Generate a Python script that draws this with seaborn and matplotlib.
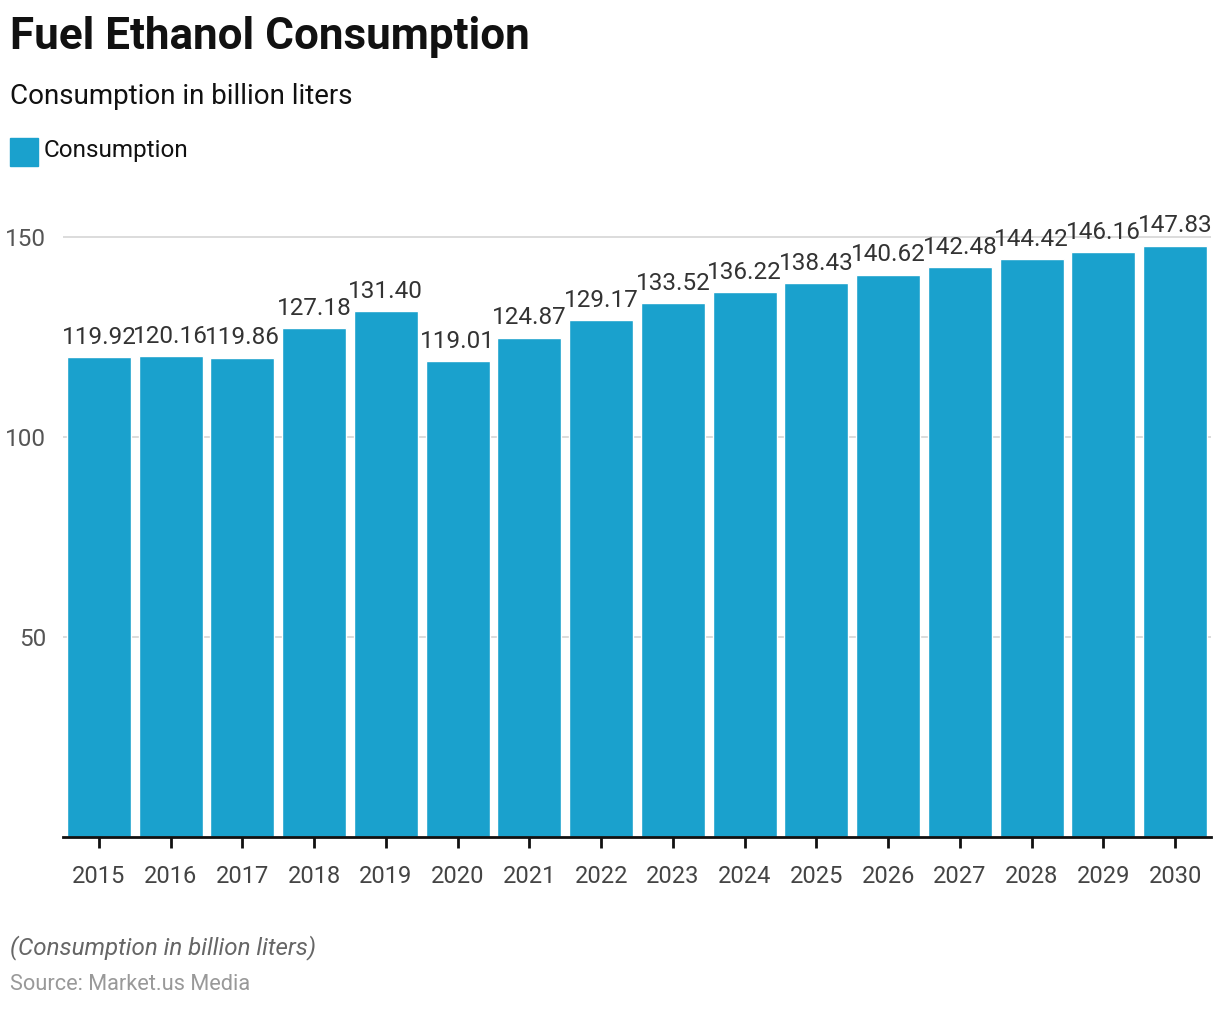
import matplotlib
matplotlib.use("Agg")
import matplotlib.pyplot as plt
import seaborn as sns
import pandas as pd
from matplotlib.patches import Rectangle

years = ["2015", "2016", "2017", "2018", "2019", "2020", "2021", "2022",
         "2023", "2024", "2025", "2026", "2027", "2028", "2029", "2030"]
consumption = [119.92, 120.16, 119.86, 127.18, 131.40, 119.01, 124.87, 129.17,
               133.52, 136.22, 138.43, 140.62, 142.48, 144.42, 146.16, 147.83]
y_ticks = [50, 100, 150]

BAR = "#1AA1CD"

sns.set_theme(style="white")
plt.rcParams['font.family'] = ['Roboto', 'DejaVu Sans']

df = pd.DataFrame({"year": years, "value": consumption})

fig = plt.figure(figsize=(12.2, 10.1), dpi=100)
ax = fig.add_axes([63/1220, 1 - 837/1010, (1211-63)/1220, (837-215)/1010])

sns.barplot(data=df, x="year", y="value", color=BAR, width=0.89,
            saturation=1, ax=ax)

ax.set_xlim(-0.5, len(years) - 0.5)
ax.set_ylim(0, 155.5)
ax.set_yticks(y_ticks)
ax.set_yticklabels([str(t) for t in y_ticks])
ax.yaxis.grid(True, color="#d5d5d5", linewidth=1.2)
ax.set_axisbelow(True)
for s in ["top", "right", "left"]:
    ax.spines[s].set_visible(False)
ax.spines["bottom"].set_color("#111111")
ax.spines["bottom"].set_linewidth(2)
ax.tick_params(axis="x", length=8, width=2, color="#111111", pad=12,
               labelsize=17, labelcolor="#444444", bottom=True)
ax.tick_params(axis="y", length=0, pad=12, labelsize=17.5, labelcolor="#555555")
ax.set_xlabel("")
ax.set_ylabel("")

for i, v in enumerate(consumption):
    ax.annotate(f"{v:.2f}", (i, v), xytext=(0, 6), textcoords="offset points",
                ha="center", va="bottom", fontsize=17.5, color="#333333")

fig.text(10/1220, 1 - 37/1010, "Fuel Ethanol Consumption", fontsize=31.7,
         fontweight="bold", color="#111111", va="center", ha="left")
fig.text(10/1220, 1 - 97/1010, "Consumption in billion liters", fontsize=20,
         color="#111111", va="center", ha="left")
fig.patches.append(Rectangle((10/1220, 1 - 166/1010), 28/1220, 28/1010,
                             transform=fig.transFigure, color=BAR))
fig.text(44/1220, 1 - 151/1010, "Consumption", fontsize=17.5,
         color="#111111", va="center", ha="left")
fig.text(10/1220, 1 - 948/1010, "(Consumption in billion liters)", fontsize=17.4,
         fontstyle="italic", color="#666666", va="center", ha="left")
fig.text(10/1220, 1 - 985/1010, "Source: Market.us Media", fontsize=15.7,
         color="#999999", va="center", ha="left")

fig.savefig("out.png", dpi=100)
